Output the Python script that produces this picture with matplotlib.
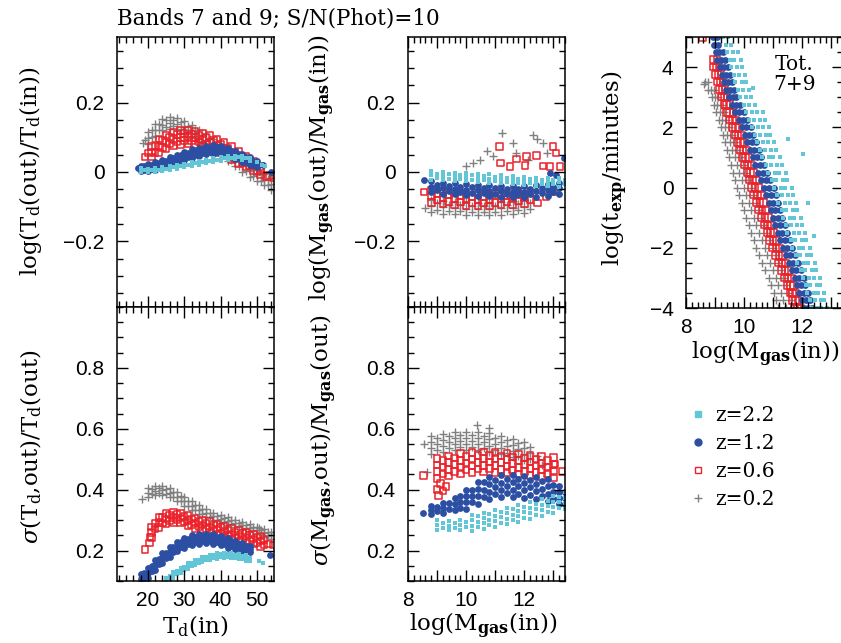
import matplotlib
matplotlib.use("Agg")
import matplotlib.pyplot as plt
from matplotlib.lines import Line2D
from matplotlib.ticker import MultipleLocator, FixedLocator, FuncFormatter

plt.rcParams["font.family"] = "DejaVu Serif"
plt.rcParams["mathtext.fontset"] = "dejavuserif"

# ------------------------------------------------------------------
# Recovered-vs-input tests, bands 7+9, S/N(phot)=10.
# Band rows are (x, y1, y2, ...): every y in a row is one source.
# For the exposure-time panel rows are (y, x1, x2, ...).
# ------------------------------------------------------------------
redshifts = ["z02", "z06", "z12", "z22"]
legend_order = ["z22", "z12", "z06", "z02"]
legend_labels = {"z22": "z=2.2", "z12": "z=1.2", "z06": "z=0.6", "z02": "z=0.2"}

# log(Td(out)/Td(in)) vs Td(in)
tbias_z02 = [
    (20, .081, .098, .115), (21, .102, .120), (22, .105, .122, .139), (23, .121, .139),
    (24, .120, .137, .154), (25, .131, .149), (26, .125, .142, .159), (27, .132, .150),
    (28, .121, .138, .155), (29, .125, .143), (30, .113, .130, .147), (31, .116, .134),
    (32, .103, .120, .137), (33, .104, .122), (34, .088, .105, .122), (35, .090, .108),
    (36, .075, .092, .109), (37, .076, .094), (38, .061, .078, .095), (39, .063, .081),
    (40, .048, .065, .082), (41, .049, .067), (42, .033, .050, .067), (43, .034, .052),
    (44, .018, .035, .052), (45, .018, .036), (46, .001, .018, .035), (47, .002, .020),
    (48, -.014, .003, .020), (49, -.013, .005), (50, -.027, -.010, .007), (51, -.025, -.007),
    (52, -.039, -.022, -.005), (53, -.038, -.020), (54, -.052, -.035, -.018),
]
tbias_z02_extra = [(18.6, .083), (19.3, .092)]
tbias_z06 = [
    (21, .043, .058, .073), (22, .057, .077), (23, .055, .075, .095), (24, .071, .091),
    (25, .067, .087, .107), (26, .081, .101), (27, .075, .095, .115), (28, .088, .108),
    (29, .080, .100, .120), (30, .091, .111), (31, .081, .101, .121), (32, .090, .110),
    (33, .079, .099, .119), (34, .086, .106), (35, .073, .093, .113), (36, .079, .099),
    (37, .065, .085, .105), (38, .071, .091), (39, .056, .076, .096), (40, .061, .081),
    (41, .046, .066, .086), (42, .050, .070), (43, .035, .054, .073), (44, .039, .057),
    (45, .025, .042, .059), (46, .028, .044), (47, .015, .030, .045), (48, .017, .031),
    (49, .004, .017, .030), (50, .005, .017), (51, -.008, .004, .016),
]
tbias_z06_extra = [(19.2, .044), (20.1, .055), (52.6, -.013), (53.5, -.010), (54.4, -.017)]
tbias_z12 = [
    (18, .002, .010, .018), (19, .005, .017), (20, .003, .013, .023), (21, .009, .021),
    (22, .007, .018, .029), (23, .015, .027), (24, .012, .024, .036), (25, .021, .033),
    (26, .019, .031, .043), (27, .028, .040), (28, .026, .038, .050), (29, .036, .048),
    (30, .034, .046, .058), (31, .044, .056), (32, .041, .053, .065), (33, .050, .062),
    (34, .046, .058, .070), (35, .055, .067), (36, .051, .063, .075), (37, .058, .070),
    (38, .053, .065, .077), (39, .059, .071), (40, .052, .064, .076), (41, .055, .067),
    (42, .046, .058, .070), (43, .048, .060), (44, .038, .050, .062), (45, .040, .052),
    (46, .029, .041, .053), (47, .030, .042), (48, .020, .031, .042), (49, .020, .032),
    (50, .013, .022, .031),
]
tbias_z12_extra = [(17.2, .011), (51.8, .020), (53.9, .000)]
tbias_z22 = [
    (18, .001, .011), (19, .005), (20, .000, .010), (21, .005), (22, .001, .011),
    (23, .007), (24, .003, .013), (25, .009), (26, .006, .016), (27, .013),
    (28, .010, .020), (29, .017), (30, .014, .024), (31, .021), (32, .018, .028),
    (33, .025), (34, .021, .031), (35, .028), (36, .025, .035), (37, .032),
    (38, .029, .039), (39, .036), (40, .032, .042), (41, .039), (42, .035, .045),
    (43, .041), (44, .037, .047), (45, .042), (46, .036, .046), (47, .039),
    (48, .031, .041),
]
tbias_z22_extra = [(50.0, .028), (51.5, .020), (52.3, .017)]

# sigma(Td,out)/Td(out) vs Td(in)
tsig_z02 = [
    (20, .375, .390, .405), (21, .386, .402), (22, .382, .397, .412), (23, .390, .406),
    (24, .383, .398, .413), (25, .387, .403), (26, .375, .390, .405), (27, .376, .392),
    (28, .362, .377, .392), (29, .362, .378), (30, .347, .362, .377), (31, .347, .363),
    (32, .332, .347, .362), (33, .332, .348), (34, .320, .334, .348), (35, .321, .335),
    (36, .309, .322, .335), (37, .310, .324), (38, .299, .312, .325), (39, .301, .315),
    (40, .291, .304, .317), (41, .293, .307), (42, .285, .297, .309), (43, .287, .299),
    (44, .278, .290, .302), (45, .280, .292), (46, .271, .283, .295), (47, .273, .285),
    (48, .263, .275, .287), (49, .264, .276), (50, .254, .266, .278), (51, .256, .268),
    (52, .246, .258, .270), (53, .248, .260), (54, .238, .250, .262),
]
tsig_z02_extra = [(18.5, .368), (50.5, .275)]
tsig_z06 = [
    (21, .243, .260, .277), (22, .271, .289), (23, .275, .292, .309), (24, .291, .309),
    (25, .287, .304, .321), (26, .298, .316), (27, .292, .309, .326), (28, .301, .319),
    (29, .290, .307, .324), (30, .294, .312), (31, .281, .298, .315), (32, .285, .303),
    (33, .273, .290, .307), (34, .278, .296), (35, .267, .284, .301), (36, .272, .290),
    (37, .261, .278, .295), (38, .266, .284), (39, .254, .271, .288), (40, .258, .276),
    (41, .246, .263, .280), (42, .250, .268), (43, .238, .255, .272), (44, .243, .261),
    (45, .232, .249, .266), (46, .238, .256), (47, .227, .244, .261), (48, .233, .251),
    (49, .221, .238, .255), (50, .226, .244), (51, .214, .231, .248), (52, .219, .237),
]
tsig_z06_extra = [(19.2, .203), (20.4, .225), (20.6, .244), (53.2, .222), (54.4, .218)]
tsig_z12 = [
    (18, .092, .108, .124), (19, .109, .125), (20, .111, .127, .143), (21, .132, .148),
    (22, .136, .152, .168), (23, .156, .172), (24, .159, .175, .191), (25, .177, .193),
    (26, .179, .195, .211), (27, .196, .212), (28, .197, .213, .229), (29, .212, .228),
    (30, .210, .226, .242), (31, .222, .238), (32, .218, .234, .250), (33, .229, .245),
    (34, .223, .239, .255), (35, .232, .248), (36, .224, .240, .256), (37, .231, .247),
    (38, .222, .238, .254), (39, .228, .244), (40, .217, .233, .249), (41, .222, .238),
    (42, .210, .226, .242), (43, .215, .231), (44, .205, .219, .233), (45, .209, .223),
    (46, .200, .212, .224), (47, .203, .215), (48, .195, .205, .215),
]
tsig_z12_extra = [(53.5, .187)]
tsig_z22 = [
    (25, .091, .100, .109), (26, .105, .115), (27, .110, .119, .128), (28, .123, .133),
    (29, .126, .135, .144), (30, .137, .147), (31, .140, .149, .158), (32, .150, .160),
    (33, .151, .160, .169), (34, .160, .170), (35, .161, .170, .179), (36, .169, .179),
    (37, .168, .177, .186), (38, .175, .185), (39, .173, .182, .191), (40, .178, .188),
    (41, .174, .183, .192), (42, .178, .188), (43, .174, .183, .192), (44, .177, .187),
    (45, .171, .180, .189), (46, .173, .183), (47, .166, .175, .184), (48, .167, .177),
]
tsig_z22_extra = [(50.5, .166), (51.7, .160)]

# log(Mgas(out)/Mgas(in)) vs log Mgas(in)
mbias_z02 = [
    (8.8, -.116, -.098, -.080), (9.0, -.109, -.091), (9.2, -.120, -.102, -.084),
    (9.4, -.112, -.094), (9.6, -.122, -.104, -.086), (9.8, -.114, -.096),
    (10.0, -.124, -.106, -.088), (10.2, -.116, -.098), (10.4, -.125, -.107, -.089),
    (10.6, -.116, -.098), (10.8, -.125, -.107, -.089), (11.0, -.115, -.097),
    (11.2, -.123, -.105, -.087), (11.4, -.113, -.095), (11.6, -.121, -.103, -.085),
    (11.8, -.111, -.093), (12.0, -.118, -.100, -.082), (12.2, -.107, -.089),
]
mbias_z02_extra = [
    (8.60, -.104), (10.00, .016), (10.25, .026), (10.47, .036), (10.70, .060),
    (10.93, .045), (11.22, .113), (11.62, .084), (11.73, .055), (12.13, .036),
    (12.30, .108), (12.42, .094), (12.65, .084), (12.77, .055),
]
mbias_z06 = [
    (8.8, -.088, -.070, -.052), (9.0, -.081, -.063), (9.2, -.092, -.074, -.056),
    (9.4, -.085, -.067), (9.6, -.095, -.077, -.059), (9.8, -.087, -.069),
    (10.0, -.097, -.079, -.061), (10.2, -.089, -.071), (10.4, -.098, -.080, -.062),
    (10.6, -.089, -.071), (10.8, -.098, -.080, -.062), (11.0, -.088, -.070),
    (11.2, -.096, -.078, -.060), (11.4, -.086, -.068), (11.6, -.094, -.076, -.058),
    (11.8, -.084, -.066), (12.0, -.091, -.073, -.055), (12.2, -.079, -.061),
]
mbias_z06_extra = [
    (8.55, -.058), (12.45, -.090), (12.75, -.072), (13.00, -.058),
    (11.14, .074), (11.18, .026), (11.50, .016), (11.73, .038), (12.02, .019),
    (12.08, .045), (12.42, .047), (12.65, .018), (12.88, .016), (12.99, .074),
    (13.09, .055), (13.22, .016),
]
mbias_z12 = [
    (8.8, -.058, -.042, -.026), (9.0, -.053, -.037), (9.2, -.063, -.047, -.031),
    (9.4, -.056, -.040), (9.6, -.065, -.049, -.033), (9.8, -.058, -.042),
    (10.0, -.067, -.051, -.035), (10.2, -.060, -.044), (10.4, -.069, -.053, -.037),
    (10.6, -.062, -.046), (10.8, -.070, -.054, -.038), (11.0, -.063, -.047),
    (11.2, -.072, -.056, -.040), (11.4, -.064, -.048), (11.6, -.073, -.057, -.041),
    (11.8, -.065, -.049), (12.0, -.073, -.057, -.041), (12.2, -.064, -.048),
    (12.4, -.071, -.055, -.039), (12.6, -.062, -.046), (12.8, -.068, -.052, -.036),
    (13.0, -.058, -.042), (13.2, -.063, -.047, -.031),
]
mbias_z12_extra = [(8.55, -.022), (12.90, -.004), (13.10, -.008), (13.35, .040)]
mbias_z22 = [
    (8.8, -.022, -.010, .002), (9.0, -.017, -.005), (9.2, -.024, -.012, .000),
    (9.4, -.019, -.007), (9.6, -.026, -.014, -.002), (9.8, -.020, -.008),
    (10.0, -.027, -.015, -.003), (10.2, -.022, -.010), (10.4, -.029, -.017, -.005),
    (10.6, -.024, -.012), (10.8, -.031, -.019, -.007), (11.0, -.026, -.014),
    (11.2, -.033, -.021, -.009), (11.4, -.028, -.016), (11.6, -.036, -.024, -.012),
    (11.8, -.031, -.019), (12.0, -.038, -.026, -.014), (12.2, -.033, -.021),
    (12.4, -.040, -.028, -.016), (12.6, -.034, -.022), (12.8, -.041, -.029, -.017),
    (13.0, -.036, -.024), (13.2, -.042, -.030, -.018), (13.4, -.036, -.024),
]
mbias_z22_extra = []

# sigma(Mgas,out)/Mgas(out) vs log Mgas(in)
msig_z02 = [
    (8.8, .516, .536, .556, .576), (9.0, .530, .550, .570), (9.2, .524, .544, .564, .584),
    (9.4, .537, .557, .577), (9.6, .529, .549, .569, .589), (9.8, .540, .560, .580),
    (10.0, .530, .550, .570, .590), (10.2, .540, .560, .580), (10.4, .529, .549, .569, .589),
    (10.6, .537, .557, .577), (10.8, .525, .545, .565, .585), (11.0, .530, .550, .570),
    (11.2, .516, .536, .556, .576), (11.4, .522, .542, .562), (11.6, .507, .527, .547, .567),
    (11.8, .512, .532, .552), (12.0, .497, .517, .537, .557), (12.2, .501, .521, .541),
]
msig_z02_extra = [(8.55, .550), (8.65, .458), (10.36, .613), (10.80, .603), (12.45, .510), (12.60, .480)]
msig_z06 = [
    (9.0, .437, .459, .481, .503), (9.2, .452, .474, .496), (9.4, .445, .467, .489, .511),
    (9.6, .460, .482, .504), (9.8, .452, .474, .496, .518), (10.0, .465, .487, .509),
    (10.2, .456, .478, .500, .522), (10.4, .468, .490, .512), (10.6, .458, .480, .502, .524),
    (10.8, .469, .491, .513), (11.0, .457, .479, .501, .523), (11.2, .467, .489, .511),
    (11.4, .455, .477, .499, .521), (11.6, .464, .486, .508), (11.8, .451, .473, .495, .517),
    (12.0, .460, .482, .504), (12.2, .447, .469, .491, .513), (12.4, .456, .478, .500),
    (12.6, .443, .465, .487, .509), (12.8, .452, .474, .496), (13.0, .439, .461, .483, .505),
]
msig_z06_extra = [(8.53, .447), (9.00, .400), (9.05, .380), (9.12, .420), (9.20, .395),
                  (9.30, .410), (13.05, .485), (13.30, .460)]
msig_z12 = [
    (8.8, .321, .333, .345), (9.0, .329, .343), (9.2, .325, .341, .357), (9.4, .337, .355),
    (9.6, .332, .352, .372), (9.8, .340, .360, .380), (10.0, .338, .358, .378, .398),
    (10.2, .358, .378, .398), (10.4, .354, .378, .402, .426), (10.6, .376, .400, .424),
    (10.8, .369, .393, .417, .441), (11.0, .385, .409, .433), (11.2, .375, .399, .423, .447),
    (11.4, .388, .412, .436), (11.6, .376, .400, .424, .448), (11.8, .387, .411, .435),
    (12.0, .374, .398, .422, .446), (12.2, .384, .408, .432), (12.4, .370, .394, .418, .442),
    (12.6, .379, .403, .427), (12.8, .363, .387, .411, .435), (13.0, .368, .392, .416),
    (13.2, .352, .372, .392, .412), (13.4, .352, .372, .392),
]
msig_z12_extra = [(8.53, .322)]
msig_z22 = [
    (9.0, .269, .285, .301), (9.2, .275, .291), (9.4, .266, .282, .298), (9.6, .274, .290),
    (9.8, .268, .284, .300), (10.0, .279, .295), (10.2, .263, .281, .299, .317),
    (10.4, .276, .294, .312), (10.6, .271, .289, .307, .325), (10.8, .284, .302, .320),
    (11.0, .279, .297, .315, .333), (11.2, .292, .310, .328), (11.4, .287, .305, .323, .341),
    (11.6, .300, .318, .336), (11.8, .295, .313, .331, .349), (12.0, .308, .326, .344),
    (12.2, .304, .322, .340, .358), (12.4, .318, .336, .354), (12.6, .314, .332, .350, .368),
    (12.8, .328, .346, .364), (13.0, .325, .343, .361, .379), (13.2, .340, .358, .376),
    (13.4, .337, .355, .373, .391),
]
msig_z22_extra = []

# log(t_exp/minutes) vs log Mgas(in); rows are (y, x1, x2, ...)
texp_z02 = [
    (3.50, 8.66, 8.74), (3.25, 8.74, 8.86, 8.96), (3.00, 8.88, 8.99, 9.10),
    (2.75, 8.96, 9.08, 9.20), (2.50, 9.04, 9.16, 9.29), (2.25, 9.12, 9.25, 9.38),
    (2.00, 9.20, 9.34, 9.48), (1.75, 9.26, 9.42, 9.58), (1.50, 9.33, 9.50, 9.67),
    (1.25, 9.40, 9.58, 9.76), (1.00, 9.48, 9.67, 9.86), (0.75, 9.55, 9.75, 9.95),
    (0.50, 9.62, 9.83, 10.04), (0.25, 9.69, 9.91, 10.13), (0.00, 9.76, 10.00, 10.24),
    (-0.25, 9.84, 10.08, 10.32), (-0.50, 9.92, 10.17, 10.41), (-0.75, 10.00, 10.25, 10.50),
    (-1.00, 10.08, 10.33, 10.58), (-1.25, 10.16, 10.42, 10.68), (-1.50, 10.24, 10.51, 10.78),
    (-1.75, 10.33, 10.60, 10.88), (-2.00, 10.42, 10.70, 10.98), (-2.25, 10.52, 10.80, 11.08),
    (-2.50, 10.62, 10.90, 11.17), (-2.75, 10.72, 11.00, 11.26), (-3.00, 10.85, 11.10, 11.35),
    (-3.25, 10.93, 11.18, 11.43), (-3.50, 11.01, 11.26, 11.51), (-3.75, 11.10, 11.35, 11.60),
    (-4.00, 11.18, 11.43, 11.68),
]
texp_z02_extra = [(8.62, 3.45)]
texp_z06 = [
    (4.25, 8.95, 9.07), (4.00, 8.94, 9.04, 9.14), (3.75, 9.00, 9.10, 9.20),
    (3.50, 9.07, 9.17, 9.27), (3.25, 9.14, 9.24, 9.34), (3.00, 9.21, 9.31, 9.41),
    (2.75, 9.30, 9.40, 9.50), (2.50, 9.39, 9.50, 9.61), (2.25, 9.48, 9.60, 9.72),
    (2.00, 9.58, 9.70, 9.82), (1.75, 9.67, 9.79, 9.91), (1.50, 9.75, 9.87, 9.99),
    (1.25, 9.84, 9.96, 10.08), (1.00, 9.93, 10.05, 10.17), (0.75, 10.01, 10.13, 10.25),
    (0.50, 10.09, 10.21, 10.33), (0.25, 10.17, 10.30, 10.43), (0.00, 10.25, 10.38, 10.51),
    (-0.25, 10.33, 10.46, 10.59), (-0.50, 10.41, 10.54, 10.67), (-0.75, 10.49, 10.62, 10.75),
    (-1.00, 10.58, 10.71, 10.84), (-1.25, 10.68, 10.81, 10.94), (-1.50, 10.78, 10.90, 11.02),
    (-1.75, 10.88, 11.00, 11.12), (-2.00, 10.98, 11.10, 11.22), (-2.25, 11.08, 11.20, 11.32),
    (-2.50, 11.18, 11.30, 11.42), (-2.75, 11.28, 11.40, 11.52), (-3.00, 11.39, 11.51, 11.63),
    (-3.25, 11.48, 11.59, 11.70), (-3.50, 11.57, 11.67, 11.77), (-3.75, 11.66, 11.76, 11.86),
    (-4.00, 11.74, 11.84, 11.94),
]
texp_z06_extra = [(8.57, 4.97)]
texp_z12 = [
    (5.00, 8.94, 9.06), (4.75, 8.98, 9.10), (4.50, 9.02, 9.14, 9.26),
    (4.25, 9.07, 9.20, 9.33), (4.00, 9.17, 9.30, 9.43), (3.75, 9.24, 9.37, 9.50),
    (3.50, 9.31, 9.44, 9.57), (3.25, 9.39, 9.52, 9.65), (3.00, 9.47, 9.60, 9.73),
    (2.75, 9.58, 9.72, 9.86), (2.50, 9.69, 9.84, 9.99), (2.25, 9.81, 9.96, 10.11),
    (2.00, 9.93, 10.08, 10.23), (1.75, 10.02, 10.17, 10.32), (1.50, 10.11, 10.26, 10.41),
    (1.25, 10.20, 10.35, 10.50), (1.00, 10.29, 10.44, 10.59), (0.75, 10.39, 10.54, 10.69),
    (0.50, 10.49, 10.64, 10.79), (0.25, 10.59, 10.74, 10.89), (0.00, 10.69, 10.85, 11.01),
    (-0.25, 10.76, 10.92, 11.08), (-0.50, 10.84, 11.00, 11.16), (-0.75, 10.91, 11.07, 11.23),
    (-1.00, 10.99, 11.15, 11.31), (-1.25, 11.07, 11.23, 11.39), (-1.50, 11.15, 11.31, 11.47),
    (-1.75, 11.24, 11.40, 11.56), (-2.00, 11.32, 11.48, 11.64), (-2.25, 11.43, 11.59, 11.75),
    (-2.50, 11.54, 11.69, 11.84), (-2.75, 11.64, 11.79, 11.94), (-3.00, 11.75, 11.90, 12.05),
    (-3.25, 11.83, 11.97, 12.11), (-3.50, 11.90, 12.05, 12.20), (-3.75, 11.98, 12.12, 12.26),
    (-4.00, 12.06, 12.20, 12.34),
]
texp_z12_extra = []
texp_z22 = [
    (5.00, 9.28, 9.45), (4.75, 9.36, 9.55), (4.50, 9.40, 9.62, 9.78),
    (4.25, 9.50, 9.66, 9.88), (4.00, 9.55, 9.77, 9.93), (3.75, 9.65, 9.82, 10.03),
    (3.50, 9.70, 9.92, 10.08), (3.25, 9.80, 9.97, 10.18), (3.00, 9.85, 10.07, 10.24),
    (2.75, 9.98, 10.15, 10.36), (2.50, 10.06, 10.28, 10.44, 10.64),
    (2.25, 10.18, 10.34, 10.56, 10.70), (2.00, 10.26, 10.48, 10.64, 10.85),
    (1.75, 10.38, 10.53, 10.76, 10.90), (1.50, 10.44, 10.66, 10.81, 11.04),
    (1.25, 10.56, 10.71, 10.94, 11.09), (1.00, 10.62, 10.85, 11.00, 11.23),
    (0.75, 10.76, 10.91, 11.14, 11.29), (0.50, 10.82, 11.05, 11.20, 11.43),
    (0.25, 10.96, 11.11, 11.34, 11.49), (0.00, 11.03, 11.26, 11.41, 11.64),
    (-0.25, 11.14, 11.29, 11.52, 11.67), (-0.50, 11.18, 11.41, 11.56, 11.79),
    (-0.75, 11.29, 11.44, 11.67, 11.82), (-1.00, 11.33, 11.56, 11.71, 11.94),
    (-1.25, 11.45, 11.60, 11.83, 11.98), (-1.50, 11.49, 11.72, 11.87, 12.10),
    (-1.75, 11.61, 11.76, 11.99, 12.14), (-2.00, 11.65, 11.88, 12.03, 12.26),
    (-2.25, 11.78, 11.93, 12.16, 12.31), (-2.50, 11.83, 12.06, 12.21, 12.44),
    (-2.75, 11.96, 12.11, 12.34, 12.48), (-3.00, 12.01, 12.24, 12.39, 12.60),
    (-3.25, 12.13, 12.28, 12.50, 12.62), (-3.50, 12.16, 12.39, 12.53, 12.73),
    (-3.75, 12.28, 12.42, 12.64, 12.76), (-4.00, 12.31, 12.52, 12.65, 12.86),
]
texp_z22_extra = [(12.03, 1.13), (12.20, -0.50), (12.40, -1.60), (11.50, 1.60), (10.30, 3.30)]

# ------------------------------------------------------------------
STYLE = {
    "z02": dict(marker="+", color="#808080", s=34, linewidths=1.0),
    "z06": dict(marker="s", facecolors="none", edgecolors="#e8232b", s=22, linewidths=1.1),
    "z12": dict(marker="o", color="#2c4fa3", s=24, linewidths=0),
    "z22": dict(marker="s", color="#62c6d6", s=11, linewidths=0),
}

TICK_FONT = "Liberation Sans"


def expand(rows, swap=False):
    xs, ys = [], []
    for row in rows:
        for v in row[1:]:
            xs.append(row[0])
            ys.append(v)
    return (ys, xs) if swap else (xs, ys)


def plot_panel(ax, series, swap=False):
    for z in redshifts:
        rows, extra = series[z]
        xs, ys = expand(rows, swap)
        xs = xs + [p[0] for p in extra]
        ys = ys + [p[1] for p in extra]
        ax.scatter(xs, ys, **STYLE[z])


def label_fmt(every=None):
    def f(v, pos):
        if every is not None and abs(v / every - round(v / every)) > 1e-6:
            return ""
        if abs(v) < 1e-9:
            v = 0.0
        return ("%g" % round(v, 6)).replace("-", "\u2212")
    return FuncFormatter(f)


def style(ax, xlim, ylim, xmaj, xmin, ymaj, ymin, xlab_every=None, ylab_every=None,
          show_x=True):
    ax.set_xlim(*xlim)
    ax.set_ylim(*ylim)
    ax.xaxis.set_major_locator(xmaj if not isinstance(xmaj, (int, float)) else MultipleLocator(xmaj))
    ax.xaxis.set_minor_locator(MultipleLocator(xmin))
    ax.yaxis.set_major_locator(ymaj if not isinstance(ymaj, (int, float)) else MultipleLocator(ymaj))
    ax.yaxis.set_minor_locator(MultipleLocator(ymin))
    ax.xaxis.set_major_formatter(label_fmt(xlab_every))
    ax.yaxis.set_major_formatter(label_fmt(ylab_every))
    ax.tick_params(which="both", direction="in", top=True, right=True, width=1.0,
                   labelsize=15, labelfontfamily=TICK_FONT)
    ax.tick_params(which="major", length=8, pad=9)
    ax.tick_params(which="minor", length=4.5)
    ax.tick_params(axis="x", pad=7)
    if not show_x:
        ax.tick_params(axis="x", labelbottom=False)
    for sp in ax.spines.values():
        sp.set_linewidth(1.1)


W, H = 841, 643
fig = plt.figure(figsize=(W / 100, H / 100), dpi=100)


def box(x0, y0, x1, y1):
    return [x0 / W, 1 - y1 / H, (x1 - x0) / W, (y1 - y0) / H]


ax_tb = fig.add_axes(box(117, 37, 274, 307))
ax_ts = fig.add_axes(box(117, 307, 274, 581))
ax_mb = fig.add_axes(box(408, 37, 565, 307))
ax_ms = fig.add_axes(box(408, 307, 565, 581))
ax_te = fig.add_axes(box(686, 37, 843, 308))

plot_panel(ax_tb, {"z02": (tbias_z02, tbias_z02_extra), "z06": (tbias_z06, tbias_z06_extra),
                   "z12": (tbias_z12, tbias_z12_extra), "z22": (tbias_z22, tbias_z22_extra)})
plot_panel(ax_ts, {"z02": (tsig_z02, tsig_z02_extra), "z06": (tsig_z06, tsig_z06_extra),
                   "z12": (tsig_z12, tsig_z12_extra), "z22": (tsig_z22, tsig_z22_extra)})
plot_panel(ax_mb, {"z02": (mbias_z02, mbias_z02_extra), "z06": (mbias_z06, mbias_z06_extra),
                   "z12": (mbias_z12, mbias_z12_extra), "z22": (mbias_z22, mbias_z22_extra)})
plot_panel(ax_ms, {"z02": (msig_z02, msig_z02_extra), "z06": (msig_z06, msig_z06_extra),
                   "z12": (msig_z12, msig_z12_extra), "z22": (msig_z22, msig_z22_extra)})
plot_panel(ax_te, {"z02": (texp_z02, texp_z02_extra), "z06": (texp_z06, texp_z06_extra),
                   "z12": (texp_z12, texp_z12_extra), "z22": (texp_z22, texp_z22_extra)},
           swap=True)

td_lim = (11.5, 54.7)
m_lim = (8, 13.4)
style(ax_tb, td_lim, (-0.39, 0.39), 10, 2, 0.2, 0.05, show_x=False)
style(ax_ts, td_lim, (0.1, 1.0), 10, 2, FixedLocator([0.2, 0.4, 0.6, 0.8]), 0.05)
style(ax_mb, m_lim, (-0.39, 0.39), 1, 0.2, 0.2, 0.05, show_x=False)
style(ax_ms, m_lim, (0.1, 1.0), 1, 0.2, FixedLocator([0.2, 0.4, 0.6, 0.8]), 0.05, xlab_every=2)
style(ax_te, m_lim, (-4, 5), 1, 0.2, 2, 0.5, xlab_every=2)

# axis titles
lab = dict(fontsize=16.5, ha="center", va="center")
fig.text(31 / W, 1 - 171 / H, r"log(T$_{\rm d}$(out)/T$_{\rm d}$(in))", rotation=90, **lab)
fig.text(31 / W, 1 - 447 / H, r"$\sigma$(T$_{\rm d}$,out)/T$_{\rm d}$(out)", rotation=90, **lab)
fig.text(322 / W, 1 - 168 / H, r"log(M$_{\bf gas}$(out)/M$_{\bf gas}$(in))", rotation=90, **lab)
fig.text(324 / W, 1 - 440 / H, r"$\sigma$(M$_{\bf gas}$,out)/M$_{\bf gas}$(out)", rotation=90, **lab)
fig.text(615 / W, 1 - 168 / H, r"log(t$_{\bf exp}$/minutes)", rotation=90, **lab)
fig.text(195 / W, 1 - 626 / H, r"T$_{\rm d}$(in)", **lab)
fig.text(483 / W, 1 - 626 / H, r"log(M$_{\bf gas}$(in))", **lab)
fig.text(765 / W, 1 - 354 / H, r"log(M$_{\bf gas}$(in))", **lab)

fig.text(117 / W, 1 - 18 / H, "Bands 7 and 9; S/N(Phot)=10", fontsize=15.5, ha="left", va="center")
ax_te.text(0.69, 0.935, "Tot.\n7+9", transform=ax_te.transAxes, fontsize=14.5,
           ha="center", va="top", linespacing=1.1)

# legend for the four redshift samples
handles = []
for z in legend_order:
    st = STYLE[z]
    if z == "z06":
        h = Line2D([], [], ls="none", marker="s", markerfacecolor="none",
                   markeredgecolor=st["edgecolors"], markersize=5, markeredgewidth=1.0)
    elif z == "z02":
        h = Line2D([], [], ls="none", marker="+", color=st["color"], markersize=6,
                   markeredgewidth=1.0)
    elif z == "z12":
        h = Line2D([], [], ls="none", marker="o", color=st["color"], markersize=5)
    else:
        h = Line2D([], [], ls="none", marker="s", color=st["color"], markersize=3.8)
    handles.append(h)
fig.legend(handles, [legend_labels[z] for z in legend_order], loc="upper left",
           bbox_to_anchor=(692 / W, 1 - 406 / H), frameon=False, fontsize=14.5,
           handlelength=0.6, handletextpad=0.55, labelspacing=0.45, borderpad=0,
           borderaxespad=0)

fig.savefig("out.png", dpi=100)
